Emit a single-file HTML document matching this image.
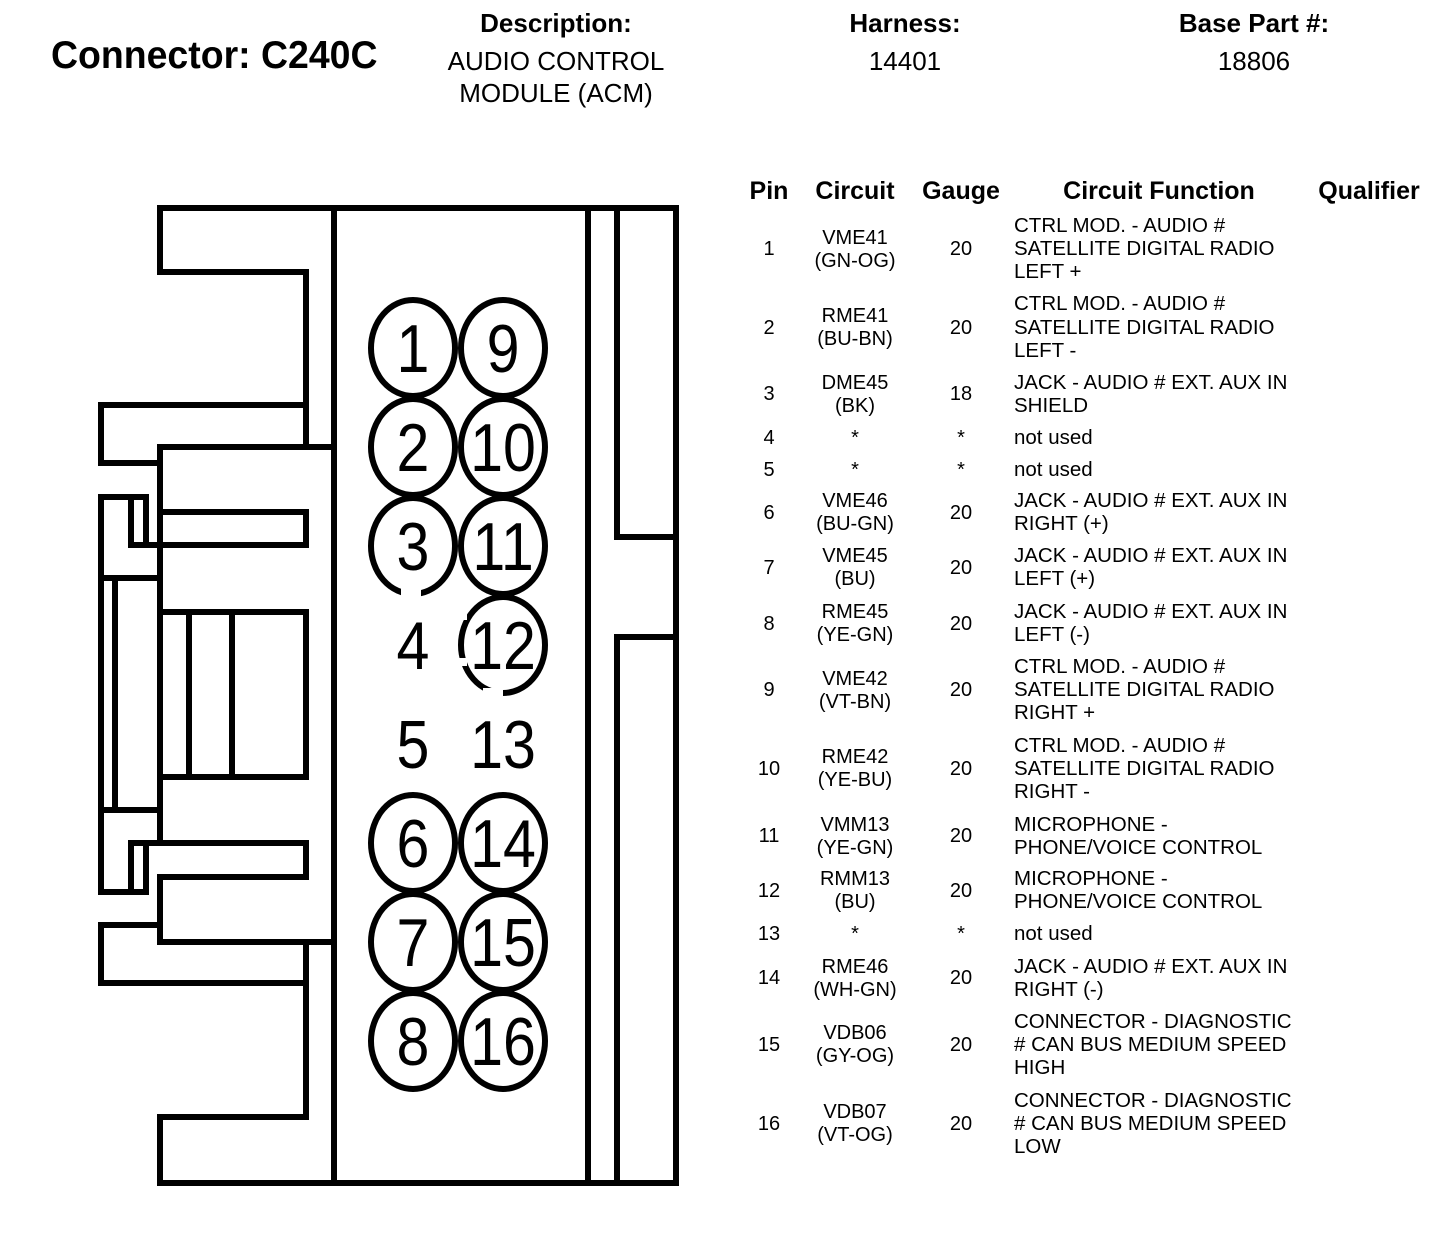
<!DOCTYPE html>
<html><head><meta charset="utf-8"><style>
html,body{margin:0;padding:0;background:#fff;}
svg{display:block}
text{font-family:"Liberation Sans",Arial,sans-serif;fill:#000}
.b{font-weight:bold}
</style></head><body>
<svg width="1456" height="1238" viewBox="0 0 1456 1238" xmlns="http://www.w3.org/2000/svg">
<rect width="1456" height="1238" fill="#fff"/>
<!-- header -->
<text x="51" y="68" class="b" font-size="39" transform="translate(51 0) scale(0.96 1) translate(-51 0)">Connector: C240C</text>
<g text-anchor="middle">
<text x="556" y="32" class="b" font-size="26">Description:</text>
<text x="556" y="70" font-size="26">AUDIO CONTROL</text>
<text x="556" y="102" font-size="26">MODULE (ACM)</text>
<text x="905" y="32" class="b" font-size="26">Harness:</text>
<text x="905" y="70" font-size="26">14401</text>
<text x="1254" y="32" class="b" font-size="26">Base Part #:</text>
<text x="1254" y="70" font-size="26">18806</text>
</g>

<!-- connector drawing -->
<g fill="none" stroke="#000" stroke-width="6" stroke-linecap="square" stroke-linejoin="miter">
<path d="M160,272 V208 H676 V1183 H160 V1117 H306 V942"/>
<path d="M160,272 H306 V447"/>
<path d="M160,463 V447 H334"/>
<path d="M101,405 H306"/>
<path d="M101,405 V463 H160"/>
<path d="M160,447 V843"/>
<path d="M160,512 H306 V545 H131 V497"/>
<path d="M101,497 H146 V545"/>
<path d="M101,497 V810 H160"/>
<path d="M115,578 V810"/>
<path d="M101,578 H160"/>
<path d="M160,612 H306 V777 H160"/>
<path d="M189,612 V777"/>
<path d="M232,612 V777"/>
<path d="M101,810 V892 H146 V843"/>
<path d="M131,843 V892"/>
<path d="M131,843 H306 V877 H160 V942 H334"/>
<path d="M160,925 H101 V983 H306"/>
<path d="M334,208 V1183"/>
<path d="M588,208 V1183"/>
<path d="M617,208 V537 H676"/>
<path d="M617,1183 V637 H676"/>
<!-- pins -->
<ellipse cx="413" cy="348" rx="42" ry="48"/>
<ellipse cx="503" cy="348" rx="42" ry="48"/>
<ellipse cx="413" cy="447" rx="42" ry="48"/>
<ellipse cx="503" cy="447" rx="42" ry="48"/>
<ellipse cx="413" cy="546" rx="42" ry="48"/>
<ellipse cx="503" cy="546" rx="42" ry="48"/>
<ellipse cx="503" cy="645" rx="42" ry="48"/>
<ellipse cx="413" cy="843" rx="42" ry="48"/>
<ellipse cx="503" cy="843" rx="42" ry="48"/>
<ellipse cx="413" cy="942" rx="42" ry="48"/>
<ellipse cx="503" cy="942" rx="42" ry="48"/>
<ellipse cx="413" cy="1041" rx="42" ry="48"/>
<ellipse cx="503" cy="1041" rx="42" ry="48"/>
</g>
<g fill="#fff">
<rect x="401" y="588" width="20" height="12"/>
<rect x="455" y="610" width="12" height="10"/>
<rect x="455" y="658" width="12" height="8"/>
<rect x="483" y="688" width="20" height="10"/>
</g>
<g font-size="68" text-anchor="middle">
<g transform="scale(0.87 1)">
<text x="474.7" y="372">1</text><text x="578.2" y="372">9</text>
<text x="474.7" y="471">2</text><text x="578.2" y="471">10</text>
<text x="474.7" y="570">3</text><text x="578.2" y="570">11</text>
<text x="474.7" y="669">4</text><text x="578.2" y="669">12</text>
<text x="474.7" y="768">5</text><text x="578.2" y="768">13</text>
<text x="474.7" y="867">6</text><text x="578.2" y="867">14</text>
<text x="474.7" y="966">7</text><text x="578.2" y="966">15</text>
<text x="474.7" y="1065">8</text><text x="578.2" y="1065">16</text>
</g>
</g>

<!-- table header -->
<g class="b" font-size="25" text-anchor="middle">
<text x="769" y="199" class="b">Pin</text>
<text x="855" y="199" class="b">Circuit</text>
<text x="961" y="199" class="b">Gauge</text>
<text x="1159" y="199" class="b">Circuit Function</text>
<text x="1369" y="199" class="b">Qualifier</text>
</g>

<!-- table rows -->
<g font-size="20">
<g text-anchor="middle">
<text x="769" y="255">1</text><text x="855" y="244">VME41</text><text x="855" y="267">(GN-OG)</text><text x="961" y="255">20</text>
<text x="769" y="334">2</text><text x="855" y="322">RME41</text><text x="855" y="345">(BU-BN)</text><text x="961" y="334">20</text>
<text x="769" y="400">3</text><text x="855" y="389">DME45</text><text x="855" y="412">(BK)</text><text x="961" y="400">18</text>
<text x="769" y="444">4</text><text x="855" y="444">*</text><text x="961" y="444">*</text>
<text x="769" y="476">5</text><text x="855" y="476">*</text><text x="961" y="476">*</text>
<text x="769" y="519">6</text><text x="855" y="507">VME46</text><text x="855" y="530">(BU-GN)</text><text x="961" y="519">20</text>
<text x="769" y="574">7</text><text x="855" y="562">VME45</text><text x="855" y="585">(BU)</text><text x="961" y="574">20</text>
<text x="769" y="630">8</text><text x="855" y="618">RME45</text><text x="855" y="641">(YE-GN)</text><text x="961" y="630">20</text>
<text x="769" y="696">9</text><text x="855" y="685">VME42</text><text x="855" y="708">(VT-BN)</text><text x="961" y="696">20</text>
<text x="769" y="775">10</text><text x="855" y="763">RME42</text><text x="855" y="786">(YE-BU)</text><text x="961" y="775">20</text>
<text x="769" y="842">11</text><text x="855" y="831">VMM13</text><text x="855" y="854">(YE-GN)</text><text x="961" y="842">20</text>
<text x="769" y="897">12</text><text x="855" y="885">RMM13</text><text x="855" y="908">(BU)</text><text x="961" y="897">20</text>
<text x="769" y="940">13</text><text x="855" y="940">*</text><text x="961" y="940">*</text>
<text x="769" y="984">14</text><text x="855" y="973">RME46</text><text x="855" y="996">(WH-GN)</text><text x="961" y="984">20</text>
<text x="769" y="1051">15</text><text x="855" y="1039">VDB06</text><text x="855" y="1062">(GY-OG)</text><text x="961" y="1051">20</text>
<text x="769" y="1130">16</text><text x="855" y="1118">VDB07</text><text x="855" y="1141">(VT-OG)</text><text x="961" y="1130">20</text>
</g>
<g font-size="20.5">
<text x="1014" y="232">CTRL MOD. - AUDIO #</text>
<text x="1014" y="255">SATELLITE DIGITAL RADIO</text>
<text x="1014" y="278">LEFT +</text>
<text x="1014" y="310">CTRL MOD. - AUDIO #</text>
<text x="1014" y="334">SATELLITE DIGITAL RADIO</text>
<text x="1014" y="357">LEFT -</text>
<text x="1014" y="389">JACK - AUDIO # EXT. AUX IN</text>
<text x="1014" y="412">SHIELD</text>
<text x="1014" y="444">not used</text>
<text x="1014" y="476">not used</text>
<text x="1014" y="507">JACK - AUDIO # EXT. AUX IN</text>
<text x="1014" y="530">RIGHT (+)</text>
<text x="1014" y="562">JACK - AUDIO # EXT. AUX IN</text>
<text x="1014" y="585">LEFT (+)</text>
<text x="1014" y="618">JACK - AUDIO # EXT. AUX IN</text>
<text x="1014" y="641">LEFT (-)</text>
<text x="1014" y="673">CTRL MOD. - AUDIO #</text>
<text x="1014" y="696">SATELLITE DIGITAL RADIO</text>
<text x="1014" y="719">RIGHT +</text>
<text x="1014" y="752">CTRL MOD. - AUDIO #</text>
<text x="1014" y="775">SATELLITE DIGITAL RADIO</text>
<text x="1014" y="798">RIGHT -</text>
<text x="1014" y="831">MICROPHONE -</text>
<text x="1014" y="854">PHONE/VOICE CONTROL</text>
<text x="1014" y="885">MICROPHONE -</text>
<text x="1014" y="908">PHONE/VOICE CONTROL</text>
<text x="1014" y="940">not used</text>
<text x="1014" y="973">JACK - AUDIO # EXT. AUX IN</text>
<text x="1014" y="996">RIGHT (-)</text>
<text x="1014" y="1028">CONNECTOR - DIAGNOSTIC</text>
<text x="1014" y="1051"># CAN BUS MEDIUM SPEED</text>
<text x="1014" y="1074">HIGH</text>
<text x="1014" y="1107">CONNECTOR - DIAGNOSTIC</text>
<text x="1014" y="1130"># CAN BUS MEDIUM SPEED</text>
<text x="1014" y="1153">LOW</text>
</g>
</g>
</svg>
</body></html>
